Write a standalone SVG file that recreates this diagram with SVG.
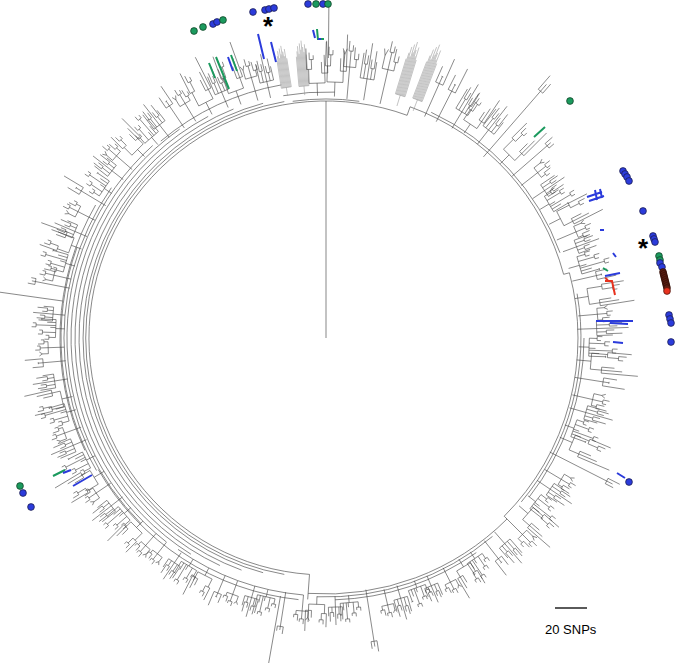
<svg xmlns="http://www.w3.org/2000/svg" width="675" height="666" viewBox="0 0 675 666">
<style>
.t{fill:none;stroke:#3c3c3c;stroke-width:0.6}
.g{fill:none;stroke:#9a9a9a;stroke-width:0.6}
.r{fill:none;stroke:#555;stroke-width:0.7}
.hb{stroke:#2b3bdb;stroke-width:2;fill:none}
.hg{stroke:#1b9a5e;stroke-width:2;fill:none}
.hr{stroke:#e8321e;stroke-width:2;fill:none}
.db{fill:#2b3bdb;stroke:#1a1a40;stroke-width:0.7}
.dg{fill:#1b9a5e;stroke:#103a20;stroke-width:0.7}
.dm{fill:#5c1e12;stroke:#2a0a05;stroke-width:0.7}
.dr{fill:#e8321e;stroke:#401008;stroke-width:0.7}
.lbl{font-family:"Liberation Sans",Arial,sans-serif;fill:#000}
</style>
<defs>
<path id="m1" class="t" vector-effect="non-scaling-stroke" d="M0,4V-8M-7,-8H7M-7,-8V-22M-3.5,-8V-16M-5,-16H-2M-5,-16V-24M-2,-16V-21M0,-8V-28M3.5,-8V-14M2,-14H5.5M2,-14V-19M5.5,-14V-24M7,-8V-18"/>
<path id="m2" class="t" vector-effect="non-scaling-stroke" d="M0,4V-5M-8,-5H8M-8,-5V-15M-10,-15H-5M-10,-15V-30M-5,-15V-22M-7,-22H-3M-7,-22V-27M-3,-22V-25M8,-5V-12M5,-12H11M5,-12V-20M11,-12V-35M8,-12V-25"/>
<path id="m3" class="g" vector-effect="non-scaling-stroke" d="M0,4V-3M-5,-3H5M-5,-3V-26M-4,-3V-30M-3,-3V-34M-2,-3V-28M-1,-3V-36M0,-3V-31M1,-3V-38M2,-3V-33M3,-3V-29M4,-3V-35M5,-3V-27"/>
<path id="m4" class="t" vector-effect="non-scaling-stroke" d="M0,4V-25M-3,-25H3M-3,-25V-31M3,-25V-29M0,-25V-28"/>
<path id="m5" class="t" vector-effect="non-scaling-stroke" d="M0,4V-12M-6,-12H6M-6,-12V-18M-8,-21L-6,-18L-4,-21M0,-12V-20M-2,-20H2M-2,-20V-25M2,-20V-23M6,-12V-16M4,-16H8M4,-16V-22M8,-16V-19"/>
<path id="m6" class="t" vector-effect="non-scaling-stroke" d="M0,4V-15M-4,-15H4M-4,-15V-24M0,-15V-19M-1,-19H1M4,-15V-30"/>
<path id="m7" class="t" vector-effect="non-scaling-stroke" d="M0,4V-4M-9,-4H9M-9,-4V-10M-11,-10H-7M-11,-10V-14M-7,-10V-13M-4,-4V-16M-6,-16H-2M-6,-16V-20M-2,-16V-19M1,-4V-9M3,-4V-22M1,-22H5M1,-22V-26M5,-22V-25M6,-4V-12M9,-4V-17M8,-17H10"/>
</defs>

<g id="tree" transform="translate(326 338)">
<g id="rings" class="r">
<path d="M0,0V-237"/>
<path d="M-16.5,236.4A237,237 0 1 1 81.1,-222.7"/>
<path d="M-16.5,236.4L-18.3,261.4"/>
<path d="M81.1,-222.7L84.1,-231.2A246,246 0 0 1 237.6,-63.7L243.4,-65.2A252,252 0 0 1 178.2,178.2L181,181A256,256 0 0 1 -17.9,255.4"/>
<path d="M-41.7,236.4A240,240 0 0 1 -41.7,-236.4"/>
<path d="M-62.9,234.7A243,243 0 0 1 -62.9,-234.7"/>
<path d="M-84.5,232.1A247,247 0 0 1 -92.5,-229.0"/>
<path d="M-106.1,227.5A251,251 0 0 1 -117.8,-221.6"/>
<path d="M-135.1,216.2A255,255 0 0 1 -146.3,-208.9"/>
<path d="M-159.5,204.1A259,259 0 0 1 -173.3,-192.5"/>
<path d="M-185.3,185.3A262,262 0 0 1 -214.6,-150.3"/>
<path d="M-229.5,132.5A265,265 0 0 1 -249.0,-90.6"/>
<path d="M105.2,-225.7A249,249 0 0 1 234.0,-85.2"/>
<path d="M251.1,-44.3A255,255 0 0 1 195.3,163.9"/>
<path d="M258,0A258,258 0 0 1 203.3,158.9"/>
<path d="M166.5,198.4A259,259 0 0 1 -9.0,258.8"/>
<path d="M150.3,214.6A262,262 0 0 1 9.1,261.8"/>
<path d="M-33.3,-236.7A239,239 0 0 1 33.3,-236.7"/>
<path d="M-22.5,257.0A258,258 0 0 1 -148.0,211.4"/>
<path d="M-27.5,261.6A263,263 0 0 1 -227.8,131.5"/>
<path d="M-241.1,112.4A266,266 0 0 1 -230.4,-133"/>
<path d="M-165.2,-196.9A257,257 0 0 1 -44.6,-253.1"/>
<path d="M-42.7,-242.3A246,246 0 0 1 8.6,-245.9"/>
<path d="M-263.4,-37.0L-326.8,-45.9M-45.5,258.0L-57.3,325.0M2.4,-280L2.9,-334"/>
</g>
<g id="clades">
<use href="#m2" transform="rotate(2) translate(0,-248) scale(1,1.6)"/>
<use href="#m5" transform="rotate(5) translate(0,-248) scale(1,2.0)"/>
<use href="#m1" transform="rotate(9) translate(0,-248) scale(1,1.8)"/>
<use href="#m5" transform="rotate(13) translate(0,-249) scale(1,2.2)"/>
<use href="#m3" transform="rotate(17) translate(0,-249) scale(1,1.6)"/>
<use href="#m3" transform="rotate(21) translate(0,-250) scale(1,1.7)"/>
<use href="#m6" transform="rotate(24) translate(0,-250) scale(1,1.9)"/>
<use href="#m6" transform="rotate(27) translate(0,-250) scale(1,1.8)"/>
<use href="#m1" transform="rotate(31) translate(0,-251) scale(1,1.6)"/>
<use href="#m2" transform="rotate(34) translate(0,-252) scale(1,1.2)"/>
<use href="#m1" transform="rotate(38) translate(0,-252) scale(1,1.5)"/>
<use href="#m4" transform="rotate(41) translate(0,-252) scale(1,3.0)"/>
<use href="#m2" transform="rotate(45) translate(0,-252) scale(1,1.4)"/>
<use href="#m4" transform="rotate(49) translate(0,-253) scale(1,1.6)"/>
<use href="#m5" transform="rotate(52) translate(0,-253) scale(1,1.3)"/>
<use href="#m1" transform="rotate(56) translate(0,-254) scale(1,1.2)"/>
<use href="#m7" transform="rotate(59) translate(0,-255) scale(1,1.3)"/>
<use href="#m2" transform="rotate(63) translate(0,-256) scale(1,1.4)"/>
<use href="#m5" transform="rotate(67) translate(0,-256) scale(1,1.3)"/>
<use href="#m1" transform="rotate(70) translate(0,-257) scale(1,1.2)"/>
<use href="#m7" transform="rotate(74) translate(0,-258) scale(1,1.4)"/>
<use href="#m6" transform="rotate(77) translate(0,-258) scale(1,1.3)"/>
<use href="#m2" transform="rotate(81) translate(0,-258) scale(1,1.5)"/>
<use href="#m5" transform="rotate(85) translate(0,-258) scale(1,1.2)"/>
<use href="#m1" transform="rotate(88) translate(0,-258) scale(1,1.6)"/>
<use href="#m7" transform="rotate(92) translate(0,-258) scale(1,1.3)"/>
<use href="#m2" transform="rotate(95) translate(0,-258) scale(1,1.6)"/>
<use href="#m6" transform="rotate(99) translate(0,-258) scale(1,1.5)"/>
<use href="#m5" transform="rotate(103) translate(0,-258) scale(1,1.3)"/>
<use href="#m1" transform="rotate(106) translate(0,-259) scale(1,1.4)"/>
<use href="#m7" transform="rotate(110) translate(0,-259) scale(1,1.2)"/>
<use href="#m2" transform="rotate(113) translate(0,-260) scale(1,1.5)"/>
<use href="#m4" transform="rotate(117) translate(0,-260) scale(1,2.2)"/>
<use href="#m5" transform="rotate(121) translate(0,-260) scale(1,1.2)"/>
<use href="#m1" transform="rotate(124) translate(0,-260) scale(1,1.3)"/>
<use href="#m7" transform="rotate(128) translate(0,-261) scale(1,1.2)"/>
<use href="#m2" transform="rotate(131) translate(0,-261) scale(1,1.3)"/>
<use href="#m5" transform="rotate(135) translate(0,-261) scale(1,1.4)"/>
<use href="#m1" transform="rotate(139) translate(0,-262) scale(1,1.3)"/>
<use href="#m6" transform="rotate(142) translate(0,-262) scale(1,1.2)"/>
<use href="#m7" transform="rotate(146) translate(0,-262) scale(1,1.0)"/>
<use href="#m2" transform="rotate(149) translate(0,-262) scale(1,1.0)"/>
<use href="#m5" transform="rotate(153) translate(0,-262) scale(1,1.0)"/>
<use href="#m1" transform="rotate(157) translate(0,-262) scale(1,0.9)"/>
<use href="#m7" transform="rotate(160) translate(0,-262) scale(1,0.9)"/>
<use href="#m1" transform="rotate(164) translate(0,-262) scale(1,1.1)"/>
<use href="#m5" transform="rotate(167) translate(0,-262) scale(1,1.0)"/>
<use href="#m4" transform="rotate(171) translate(0,-262) scale(1,1.8)"/>
<use href="#m7" transform="rotate(175) translate(0,-262) scale(1,0.9)"/>
<use href="#m1" transform="rotate(178) translate(0,-262) scale(1,0.9)"/>
<use href="#m2" transform="rotate(182) translate(0,-262) scale(1,0.9)"/>
<use href="#m5" transform="rotate(185) translate(0,-262) scale(1,1.0)"/>
<use href="#m4" transform="rotate(189) translate(0,-262) scale(1,1.2)"/>
<use href="#m7" transform="rotate(193) translate(0,-262) scale(1,0.9)"/>
<use href="#m1" transform="rotate(196) translate(0,-262) scale(1,1.0)"/>
<use href="#m5" transform="rotate(200) translate(0,-262) scale(1,0.9)"/>
<use href="#m6" transform="rotate(203) translate(0,-262) scale(1,1.0)"/>
<use href="#m2" transform="rotate(207) translate(0,-262) scale(1,0.9)"/>
<use href="#m7" transform="rotate(211) translate(0,-262) scale(1,1.0)"/>
<use href="#m1" transform="rotate(214) translate(0,-263) scale(1,1.0)"/>
<use href="#m5" transform="rotate(218) translate(0,-263) scale(1,0.9)"/>
<use href="#m5" transform="rotate(221) translate(0,-263) scale(1,1.0)"/>
<use href="#m2" transform="rotate(225) translate(0,-263) scale(1,1.0)"/>
<use href="#m7" transform="rotate(229) translate(0,-263) scale(1,1.1)"/>
<use href="#m1" transform="rotate(232) translate(0,-263) scale(1,1.2)"/>
<use href="#m5" transform="rotate(236) translate(0,-264) scale(1,1.1)"/>
<use href="#m2" transform="rotate(239) translate(0,-264) scale(1,1.3)"/>
<use href="#m7" transform="rotate(243) translate(0,-264) scale(1,1.2)"/>
<use href="#m1" transform="rotate(247) translate(0,-265) scale(1,1.2)"/>
<use href="#m5" transform="rotate(250) translate(0,-265) scale(1,1.1)"/>
<use href="#m7" transform="rotate(254) translate(0,-265) scale(1,1.2)"/>
<use href="#m2" transform="rotate(257) translate(0,-265) scale(1,1.2)"/>
<use href="#m1" transform="rotate(261) translate(0,-266) scale(1,1.1)"/>
<use href="#m6" transform="rotate(265) translate(0,-266) scale(1,1.2)"/>
<use href="#m5" transform="rotate(268) translate(0,-266) scale(1,1.0)"/>
<use href="#m7" transform="rotate(272) translate(0,-266) scale(1,1.1)"/>
<use href="#m1" transform="rotate(275) translate(0,-266) scale(1,1.0)"/>
<use href="#m4" transform="rotate(281) translate(0,-266) scale(1,1.2)"/>
<use href="#m5" transform="rotate(283) translate(0,-266) scale(1,1.1)"/>
<use href="#m7" transform="rotate(286) translate(0,-266) scale(1,1.2)"/>
<use href="#m2" transform="rotate(290) translate(0,-265) scale(1,1.2)"/>
<use href="#m1" transform="rotate(293) translate(0,-264) scale(1,1.1)"/>
<use href="#m5" transform="rotate(297) translate(0,-264) scale(1,1.2)"/>
<use href="#m6" transform="rotate(301) translate(0,-263) scale(1,1.5)"/>
<use href="#m7" transform="rotate(304) translate(0,-263) scale(1,1.1)"/>
<use href="#m1" transform="rotate(308) translate(0,-262) scale(1,1.2)"/>
<use href="#m5" transform="rotate(311) translate(0,-262) scale(1,1.3)"/>
<use href="#m2" transform="rotate(315) translate(0,-261) scale(1,1.1)"/>
<use href="#m7" transform="rotate(319) translate(0,-261) scale(1,1.2)"/>
<use href="#m1" transform="rotate(322) translate(0,-260) scale(1,1.3)"/>
<use href="#m6" transform="rotate(326) translate(0,-259) scale(1,1.4)"/>
<use href="#m5" transform="rotate(329) translate(0,-258) scale(1,1.3)"/>
<use href="#m2" transform="rotate(333) translate(0,-257) scale(1,1.5)"/>
<use href="#m1" transform="rotate(337) translate(0,-256) scale(1,1.4)"/>
<use href="#m2" transform="rotate(340) translate(0,-255) scale(1,1.6)"/>
<use href="#m5" transform="rotate(344) translate(0,-253) scale(1,1.5)"/>
<use href="#m1" transform="rotate(347) translate(0,-252) scale(1,1.4)"/>
<use href="#m3" transform="rotate(351) translate(0,-250) scale(1,1.2)"/>
<use href="#m3" transform="rotate(355) translate(0,-249) scale(1,1.3)"/>
<use href="#m2" transform="rotate(358) translate(0,-248) scale(1,1.4)"/>
</g>
</g>

<g id="highlights">
<path class="hg" d="M209,63L215,78M216,57L229,89M231,55L237,71M317,29L318,40M321,39L324,39M603,268L608,271M53,476L65,470M534,137L545,127"/>
<path class="hb" d="M228,57L233,71M258,34L264,59M271,42L276,62M313,30L315,38M318,39L321,39M587,197L602,192M589,201L604,196M595,190L597,200M600,189L602,198M600,230L604,230M613,253L616,257M605,276L620,273M596,321L633,321M610,323L628,324M613,342L623,343M617,473L625,478M63,473L71,470M73,486L92,475"/>
<path class="hr" d="M605,281L612,281L615,295M605,278L608,280"/>
</g>

<g id="dots">
<circle class="dg" cx="194" cy="31" r="3.4"/>
<circle class="dg" cx="203" cy="27" r="3.4"/>
<circle class="db" cx="213" cy="24" r="3.4"/>
<circle class="db" cx="217" cy="22" r="3.4"/>
<circle class="dg" cx="223" cy="20" r="3.4"/>
<circle class="db" cx="253" cy="12" r="3.4"/>
<circle class="db" cx="265" cy="10" r="3.4"/>
<circle class="db" cx="269" cy="9" r="3.4"/>
<circle class="db" cx="274" cy="8" r="3.4"/>
<circle class="db" cx="308" cy="4" r="3.4"/>
<circle class="dg" cx="316" cy="4" r="3.4"/>
<circle class="db" cx="323" cy="4" r="3.4"/>
<circle class="dg" cx="328" cy="4" r="3.4"/>
<circle class="dg" cx="570" cy="101" r="3.4"/>
<circle class="db" cx="623" cy="171" r="3.4"/>
<circle class="db" cx="625" cy="174" r="3.4"/>
<circle class="db" cx="627" cy="177" r="3.4"/>
<circle class="db" cx="629" cy="181" r="3.4"/>
<circle class="db" cx="643" cy="211" r="3.4"/>
<circle class="db" cx="653" cy="236" r="3.4"/>
<circle class="db" cx="654" cy="239" r="3.4"/>
<circle class="db" cx="655" cy="242" r="3.4"/>
<circle class="dg" cx="659" cy="256" r="3.4"/>
<circle class="dg" cx="660" cy="260" r="3.4"/>
<circle class="db" cx="660" cy="263" r="3.4"/>
<circle class="db" cx="662" cy="267" r="3.4"/>
<circle class="dm" cx="663" cy="272" r="3.4"/>
<circle class="dm" cx="663.5" cy="274" r="3.4"/>
<circle class="dm" cx="664" cy="276" r="3.4"/>
<circle class="dm" cx="664.5" cy="278" r="3.4"/>
<circle class="dm" cx="665" cy="280" r="3.4"/>
<circle class="dm" cx="665.5" cy="282" r="3.4"/>
<circle class="dm" cx="666" cy="284" r="3.4"/>
<circle class="dm" cx="666.5" cy="286" r="3.4"/>
<circle class="dm" cx="667" cy="288" r="3.4"/>
<circle class="dr" cx="667" cy="291" r="3.4"/>
<circle class="db" cx="669" cy="315" r="3.4"/>
<circle class="db" cx="670" cy="319" r="3.4"/>
<circle class="db" cx="671" cy="323" r="3.4"/>
<circle class="db" cx="671" cy="342" r="3.4"/>
<circle class="db" cx="629" cy="482" r="3.4"/>
<circle class="dg" cx="20" cy="486" r="3.4"/>
<circle class="db" cx="23" cy="493" r="3.4"/>
<circle class="db" cx="31" cy="507" r="3.4"/>
</g>

<g id="marks">
<text class="lbl" x="268" y="35" font-size="26" font-weight="bold" text-anchor="middle">*</text>
<text class="lbl" x="643" y="257" font-size="26" font-weight="bold" text-anchor="middle">*</text>
</g>

<g id="scalebar">
<line x1="555" y1="608" x2="587" y2="608" stroke="#000" stroke-width="1.3"/>
<text class="lbl" x="545" y="634" font-size="13">20 SNPs</text>
</g>
</svg>
